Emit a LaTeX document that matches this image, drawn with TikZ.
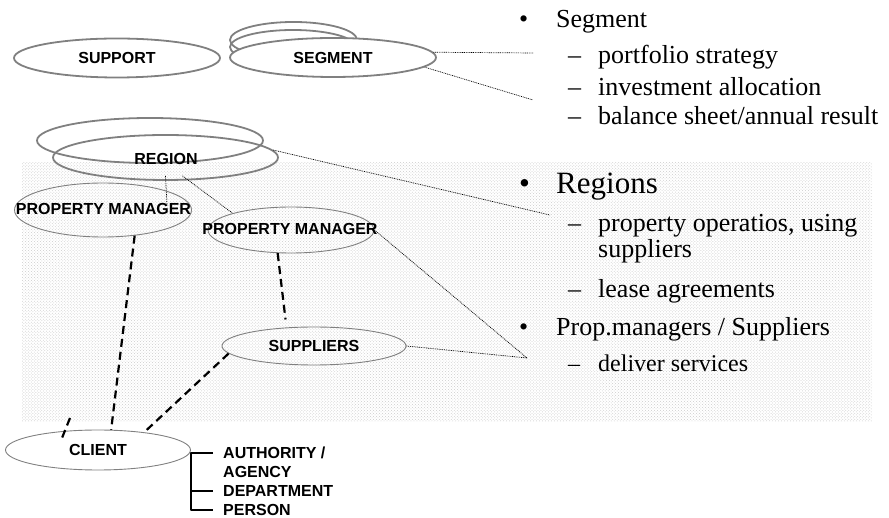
\documentclass[tikz,border=0pt]{standalone}
\usepackage{fontspec}
\setmainfont{Liberation Serif}
\setsansfont{Liberation Sans}
\usetikzlibrary{shapes,arrows,patterns}

\begin{document}
\begin{tikzpicture}[>=latex,line join=bevel,
  bigoval/.style={draw=gray,line width=1.8bp,ellipse,inner sep=0pt},
  smalloval/.style={draw=gray,line width=0.9bp,ellipse,inner sep=0pt},
  caps/.style={font=\sffamily\bfseries\fontsize{16bp}{19bp}\selectfont,inner sep=0pt},
  item/.style={anchor=base west,inner sep=0pt,font=\fontsize{26bp}{31bp}\selectfont},
  bigitem/.style={item,font=\fontsize{31bp}{37bp}\selectfont},
  smallitem/.style={item,font=\fontsize{24bp}{29bp}\selectfont},
  link/.style={dash pattern=on 0.9bp off 0.9bp,line width=0.7bp},
  tie/.style={dash pattern=on 8bp off 5bp,line width=2.2bp},
  bracket/.style={line width=2bp}]
%%
\useasboundingbox (0bp,0bp) rectangle (889bp,518bp);
\begin{scope}
  \fill [pattern=crosshatch dots,pattern color=gray!40] (22bp,96bp) rectangle (872bp,355bp);
\end{scope}
%% ovals
  \node (sup0) at (117bp,460bp) [bigoval,caps,minimum width=206bp,minimum height=39bp] {SUPPORT};
  \node (segback1) at (293.5bp,478bp) [bigoval,minimum width=127bp,minimum height=36bp] {};
  \node (segback2) at (293bp,471bp) [bigoval,minimum width=126bp,minimum height=34bp] {};
  \node (seg) at (333bp,460.5bp) [bigoval,caps,fill=white,minimum width=206bp,minimum height=39bp] {SEGMENT};
  \node (regback) at (150bp,377.5bp) [bigoval,minimum width=226bp,minimum height=45bp] {};
  \node (reg) at (165.5bp,360.5bp) [bigoval,minimum width=225bp,minimum height=45bp] {};
  \node (regtext) at (166bp,359bp) [caps] {REGION};
  \node (pmL) at (103bp,308bp) [smalloval,minimum width=177bp,minimum height=54bp] {};
  \node (pmLtext) at (103.5bp,309bp) [caps] {PROPERTY MANAGER};
  \node (pmR) at (291bp,288bp) [smalloval,minimum width=166bp,minimum height=46bp] {};
  \node (pmRtext) at (290bp,289bp) [caps] {PROPERTY MANAGER};
  \node (sup) at (314bp,172bp) [smalloval,caps,minimum width=184bp,minimum height=38bp] {SUPPLIERS};
  \node (client) at (98bp,68bp) [smalloval,caps,minimum width=185bp,minimum height=40bp] {CLIENT};
%% client kinds
  \node (authA) at (223bp,65bp) [caps,anchor=west] {AUTHORITY /};
  \node (authB) at (223bp,46bp) [caps,anchor=west] {AGENCY};
  \node (dept) at (223bp,27bp) [caps,anchor=west] {DEPARTMENT};
  \node (person) at (223bp,8bp) [caps,anchor=west] {PERSON};
%% bullet text
  \node (bSeg) at (519bp,490bp) [item] {\textbullet};
  \node (tSeg) at (556bp,490bp) [item] {Segment};
  \node (dPort) at (568bp,454bp) [item] {\textendash};
  \node (tPort) at (598bp,454bp) [item] {portfolio strategy};
  \node (dInv) at (568bp,422bp) [item] {\textendash};
  \node (tInv) at (598bp,422bp) [item] {investment allocation};
  \node (dBal) at (568bp,393bp) [item] {\textendash};
  \node (tBal) at (598bp,393bp) [item] {balance sheet/annual result};
  \node (bReg) at (519bp,324bp) [bigitem] {\textbullet};
  \node (tReg) at (556bp,324bp) [bigitem] {Regions};
  \node (dOps) at (568bp,286bp) [item] {\textendash};
  \node (tOps) at (598bp,286bp) [item] {property operatios, using};
  \node (tOps2) at (598bp,260bp) [item] {suppliers};
  \node (dLease) at (568bp,220bp) [item] {\textendash};
  \node (tLease) at (598bp,220bp) [item] {lease agreements};
  \node (bProp) at (519bp,182bp) [item] {\textbullet};
  \node (tProp) at (556bp,182bp) [item] {Prop.managers / Suppliers};
  \node (dServ) at (568bp,146bp) [smallitem] {\textendash};
  \node (tServ) at (598bp,146bp) [smallitem] {deliver services};
%% free ends
  \coordinate (segA) at (533bp,465bp);
  \coordinate (segB) at (533bp,418bp);
  \coordinate (regE) at (550bp,303bp);
  \coordinate (pmLtop) at (167bp,313bp);
  \coordinate (fork) at (527bp,160bp);
  \coordinate (stubA) at (70bp,100bp);
  \coordinate (stubB) at (62bp,80bp);
%% connectors
  \draw [link] (seg.3) -- (segA);
  \draw [link] (seg.-6) -- (segB);
  \draw [link] (reg.4) -- (regE);
  \draw [link] ([yshift=5bp]reg.south) -- (pmLtop);
  \draw [link] ([shift={(17bp,5bp)}]reg.south) -- (pmR.164);
  \draw [link] (pmR.east) -- (fork);
  \draw [link] (sup.east) -- (fork);
  \draw [tie] (pmL.-39) -- (client.57);
  \draw [tie,shorten >=8bp] (pmR.-120) -- (sup.146);
  \draw [tie] (sup.-175) -- (client.21);
  \draw [tie] (stubA) -- (stubB);
  \draw [bracket] ([xshift=-10bp]authA.west) -- ++(-22bp,0bp) |- ([xshift=-10bp]person.west);
  \draw [bracket] ([xshift=-32bp]dept.west) -- ([xshift=-10bp]dept.west);
%
\end{tikzpicture}
\end{document}
